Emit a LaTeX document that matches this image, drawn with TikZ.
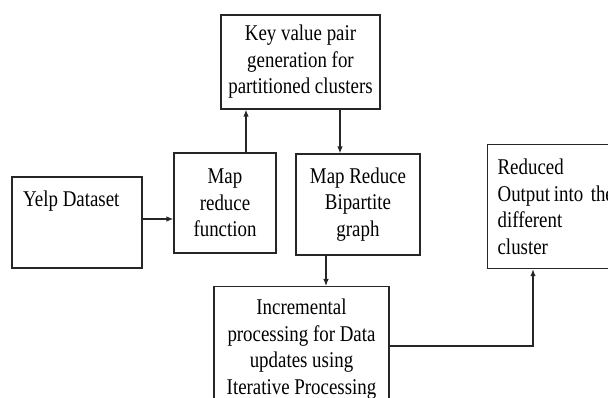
\documentclass[tikz,border=0pt]{standalone}
\usepackage{fontspec}
\setmainfont[FakeStretch=0.84]{Liberation Serif}
\usetikzlibrary{arrows.meta}
\begin{document}
\begin{tikzpicture}[x=1pt,y=-1pt,
  box/.style={draw=black!85,line width=1.2pt,rectangle,inner sep=0pt,
    font=\fontsize{22.5}{26.5}\selectfont,align=center},
  lbl/.style={inner sep=0pt,font=\fontsize{22.5}{26.5}\selectfont,align=left},
  arr/.style={draw=black!85,line width=1.2pt,-{Latex[length=7pt,width=5.5pt]}},
  ln/.style={draw=black!85,line width=1.2pt}]
\useasboundingbox (0,0) rectangle (608,398);
\clip (0,0) rectangle (608,398);
\node[box,minimum width=159pt,minimum height=94pt] (kv) at (300.5,62)
  {Key value pair\\generation for\\partitioned clusters};
\node[box,minimum width=102pt,minimum height=100pt] (map) at (225,203)
  {Map\\reduce\\function};
\node[box,minimum width=124pt,minimum height=101pt] (bip) at (358,204.5)
  {Map Reduce\\Bipartite\\graph};
\node[box,minimum width=130pt,minimum height=91pt] (yelp) at (77,222.5) {};
\node[lbl,anchor=base west] (yelptext) at (23,207) {Yelp Dataset};
\node[box,anchor=north west,minimum width=150pt,minimum height=124pt,
  align=left,text width=130pt] (red) at (487,144)
  {Reduced\\Output\,into the\\different\\cluster};
\node[box,anchor=north,minimum width=175pt,minimum height=130pt,
  inner ysep=12.5pt] (inc) at (301.5,286)
  {Incremental\\processing for Data\\updates using\\Iterative Processing\\[22pt]};
\draw[arr] ([yshift=3.5pt]yelp.east) -- ([yshift=3.5pt]yelp.east -| map.west);
\draw[arr] ([xshift=21pt]map.north) -- ([xshift=21pt]map.north |- kv.south);
\draw[arr] ([xshift=39.5pt]kv.south) -- ([xshift=39.5pt]kv.south |- bip.north);
\draw[arr] ([xshift=-32pt]bip.south) -- ([xshift=-32pt]bip.south |- inc.north);
\draw[arr] ([yshift=-60pt]inc.north east) -| ([xshift=46pt]red.south west);
\end{tikzpicture}
\end{document}
